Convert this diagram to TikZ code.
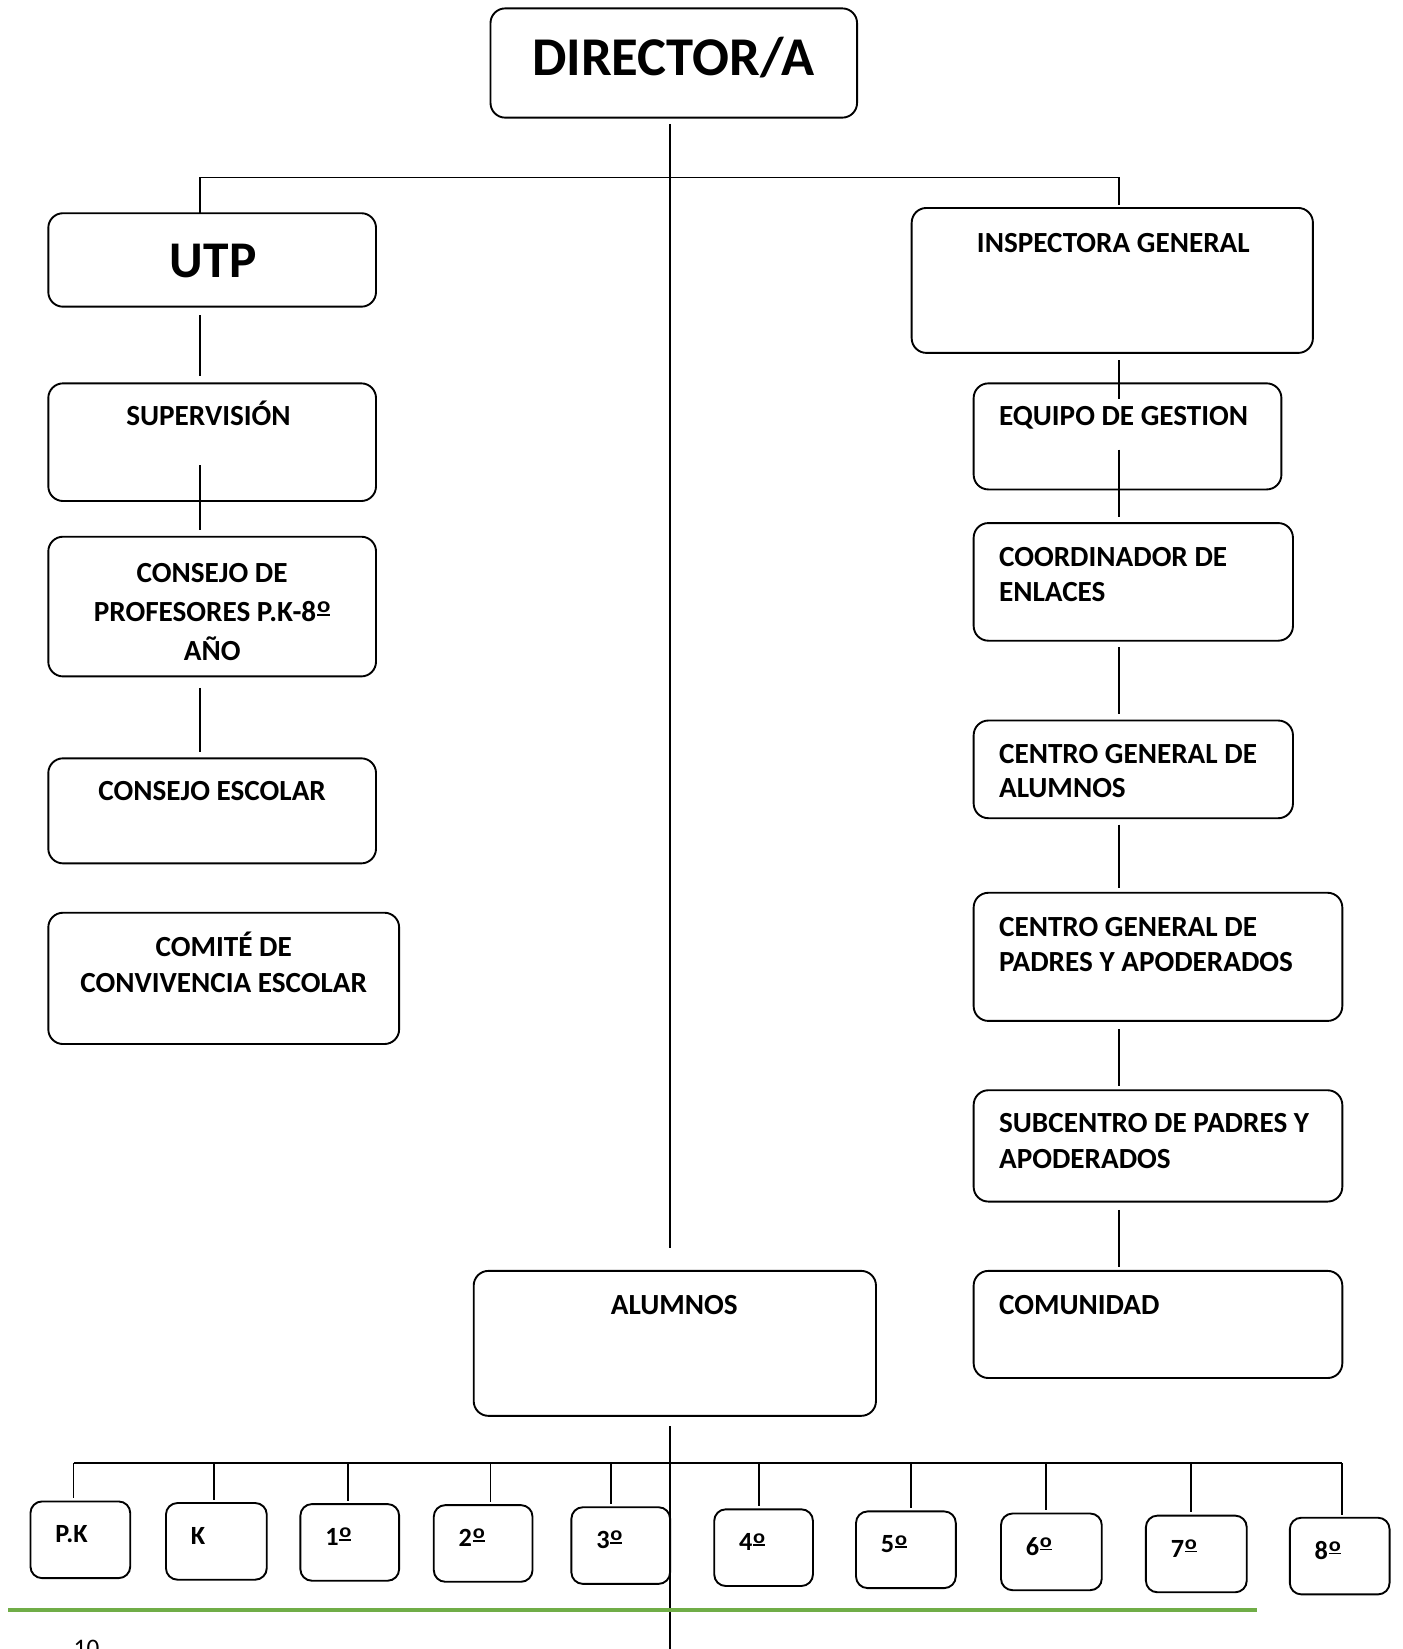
\documentclass[tikz,border=0pt]{standalone}
\usepackage{fontspec}
\setmainfont{Carlito}
\usetikzlibrary{calc}
\definecolor{lineGreen}{RGB}{112,173,71}
\newcommand{\ordm}{\kern0.03em\raisebox{0.18em}{\vbox{\hbox{\scalebox{0.85}[0.75]{o}}\kern0.045em\hrule height 0.065em}}}
\begin{document}
\begin{tikzpicture}[x=1pt,y=-1pt,
  box/.style={draw,line width=1.8pt,rounded corners=14pt,inner sep=0pt,outer sep=0pt},
  sbox/.style={draw,line width=1.8pt,rounded corners=11pt,inner sep=0pt,outer sep=0pt,minimum width=95pt,minimum height=73pt},
  conn/.style={line width=1.8pt},
  txt/.style={inner sep=0pt,anchor=base,font=\bfseries\fontsize{27.8}{33}\selectfont},
  txtl/.style={txt,anchor=base west},
  stxt/.style={inner sep=0pt,anchor=base west,font=\bfseries\fontsize{25}{28}\selectfont}]
\useasboundingbox (0,0) rectangle (1335,1570);

% boxes
\node[box,minimum width=349pt,minimum height=104pt] (dir) at (641.5,60) {};
\node[box,minimum width=312pt,minimum height=89pt] (utp) at (202,247.5) {};
\node[box,minimum width=312pt,minimum height=112pt] (sup) at (202,421) {};
\node[box,minimum width=312pt,minimum height=133pt] (cons) at (202,577.5) {};
\node[box,minimum width=312pt,minimum height=100pt] (cesc) at (202,772) {};
\node[box,minimum width=334pt,minimum height=125pt] (comi) at (213,931.5) {};
\node[box,minimum width=382pt,minimum height=138pt] (insp) at (1059,267) {};
\node[box,minimum width=293pt,minimum height=101pt] (eq) at (1073.5,415.5) {};
\node[box,minimum width=304pt,minimum height=112pt] (coord) at (1079,554) {};
\node[box,minimum width=304pt,minimum height=93pt] (cga) at (1079,732.5) {};
\node[box,minimum width=351pt,minimum height=122pt] (cgp) at (1102.5,911) {};
\node[box,minimum width=351pt,minimum height=106pt] (sub) at (1102.5,1091) {};
\node[box,minimum width=351pt,minimum height=102pt] (comu) at (1102.5,1261) {};
\node[box,minimum width=383pt,minimum height=138pt] (alu) at (642.5,1279) {};

% texts
\node[txt,font=\bfseries\fontsize{52}{60}\selectfont] at (641,72) {DIRECTOR/A};
\node[txt,font=\bfseries\fontsize{49}{56}\selectfont] at (203,264) {UTP};
\node[txt] at (198.5,405.5) {SUPERVISIÓN};
\node[txt] at (202,554.5) {CONSEJO DE};
\node[txt] at (202,591.5) {PROFESORES P.K-8\ordm};
\node[txt] at (202,628.5) {AÑO};
\node[txt] at (202,762.5) {CONSEJO ESCOLAR};
\node[txt] at (213,910.5) {COMITÉ DE};
\node[txt] at (213,944.5) {CONVIVENCIA ESCOLAR};
\node[txt] at (1060,240.5) {INSPECTORA GENERAL};
\node[txtl] at (951,405.5) {EQUIPO DE GESTION};
\node[txtl] at (951,539.5) {COORDINADOR DE};
\node[txtl] at (951,572.5) {ENLACES};
\node[txtl] at (951,726.5) {CENTRO GENERAL DE};
\node[txtl] at (951,759.5) {ALUMNOS};
\node[txtl] at (951,891.5) {CENTRO GENERAL DE};
\node[txtl] at (951,924.5) {PADRES Y APODERADOS};
\node[txtl] at (951,1078.5) {SUBCENTRO DE PADRES Y};
\node[txtl] at (951,1112.5) {APODERADOS};
\node[txtl] at (951,1251.5) {COMUNIDAD};
\node[txt] at (642,1251.5) {ALUMNOS};

% axis coordinates
\coordinate (lx) at (190,0);
\coordinate (rx) at (1065,0);
\coordinate (cx) at (638,0);
\coordinate (hb) at (0,169);
\coordinate (bus) at (0,1393);
\coordinate (pgbot) at (0,1580);

% top connectors
\draw[conn] ([yshift=-6pt]cx |- dir.south) -- ([yshift=22pt]cx |- alu.north);
\draw[conn] (lx |- utp.north) -- (lx |- hb) -- (rx |- hb) -- ([yshift=3pt]rx |- insp.north);

% left column
\draw[conn] ([yshift=-8pt]lx |- utp.south) -- ([yshift=7pt]lx |- sup.north);
\draw[conn] ([yshift=34pt]lx |- sup.south) -- ([yshift=6pt]lx |- cons.north);
\draw[conn] ([yshift=-11pt]lx |- cons.south) -- ([yshift=6pt]lx |- cesc.north);

% right column
\draw[conn] ([yshift=-7pt]rx |- insp.south) -- ([yshift=-15pt]rx |- eq.north);
\draw[conn] ([yshift=38pt]rx |- eq.south) -- ([yshift=6pt]rx |- coord.north);
\draw[conn] ([yshift=-6pt]rx |- coord.south) -- ([yshift=6pt]rx |- cga.north);
\draw[conn] ([yshift=-6pt]rx |- cga.south) -- ([yshift=5pt]rx |- cgp.north);
\draw[conn] ([yshift=-8pt]rx |- cgp.south) -- ([yshift=4pt]rx |- sub.north);
\draw[conn] ([yshift=-8pt]rx |- sub.south) -- ([yshift=4pt]rx |- comu.north);

% bottom row
\foreach \n/\bx/\by/\w/\dx/\t in {pk/76.5/1466/95/70/P.K, k/206/1467.5/96/204/K, b1/333/1468.5/94/331/1\ordm, b2/460/1469.5/94/467/2\ordm, b3/591/1471.5/94/582/3\ordm, b4/727/1473.5/94/723/4\ordm, b5/862.5/1475.5/95/867/5\ordm, b6/1001/1477.5/96/996/6\ordm, b7/1139/1479.5/96/1134/7\ordm, b8/1275.5/1481.5/95/1278/8\ordm}{
  \node[sbox,minimum width=\w pt] (\n) at (\bx,\by) {};
  \node[stxt] at ([xshift=23.5pt,yshift=-39.5pt]\n.north west) {\t};
  \coordinate (d\n) at (\dx,0);
  \draw[conn] (d\n |- bus) -- ([yshift=3pt]d\n |- \n.north);
}
\draw[conn] (dpk |- bus) -- (db8 |- bus);
\draw[conn] ([yshift=-10pt]cx |- alu.south) -- (cx |- pgbot);

% footer
\draw[lineGreen,line width=4pt] (8,1533) -- (1197,1533);
\node[inner sep=0pt,anchor=base west,font=\fontsize{24}{28}\selectfont] at (70,1577) {10};
\end{tikzpicture}
\end{document}
